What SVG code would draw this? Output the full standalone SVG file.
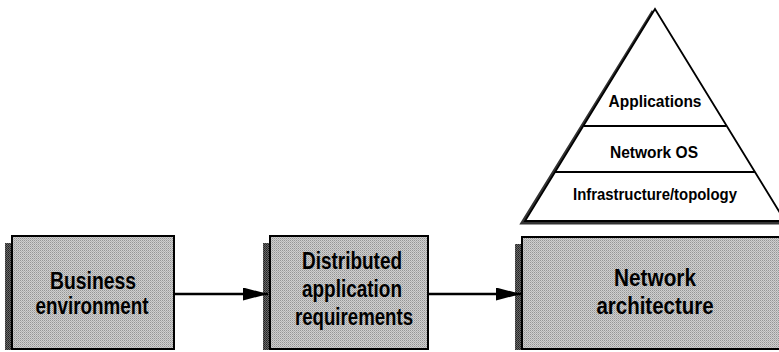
<svg xmlns="http://www.w3.org/2000/svg" width="779" height="352" viewBox="0 0 779 352">
<defs>
<pattern id="ht" width="2" height="2" patternUnits="userSpaceOnUse">
<rect width="2" height="2" fill="#cfcfcf"/>
<rect width="1" height="1" fill="#959595"/>
<rect x="1" y="1" width="1" height="1" fill="#b0b0b0"/>
</pattern>
<pattern id="sh" width="2" height="2" patternUnits="userSpaceOnUse">
<rect width="2" height="2" fill="#6a6a6a"/>
<rect width="1" height="1" fill="#222"/>
<rect x="1" y="1" width="1" height="1" fill="#333"/>
</pattern>
<marker id="ah" markerWidth="25" markerHeight="13" refX="25" refY="6.5" orient="auto" markerUnits="userSpaceOnUse" viewBox="0 0 25 13">
<path d="M0,0 L25,6.5 L0,13 Z" fill="#000"/>
</marker>
</defs>
<style>
.box{fill:url(#ht);stroke:#000;stroke-width:2}
.shadow{fill:url(#sh)}
.t{font-family:"Liberation Sans",Arial,sans-serif;font-weight:bold;fill:#000;text-anchor:middle}
.big{font-size:23px}
.small{font-size:17px}
.conn{stroke:#000;stroke-width:2.5;fill:none}
.tri{fill:#fff;stroke:#000;stroke-width:1.8}
.div{stroke:#000;stroke-width:1.8}
</style>

<g id="business">
<rect class="shadow" x="5" y="243" width="7" height="107"/>
<rect class="box" x="12" y="236" width="162" height="113"/>
<text class="t big" x="93" y="289" textLength="86" lengthAdjust="spacingAndGlyphs">Business</text>
<text class="t big" x="92" y="314" textLength="113" lengthAdjust="spacingAndGlyphs">environment</text>
</g>

<g id="requirements">
<rect class="shadow" x="263" y="243" width="7" height="107"/>
<rect class="box" x="270" y="236" width="158" height="113"/>
<text class="t big" x="352" y="269" textLength="100" lengthAdjust="spacingAndGlyphs">Distributed</text>
<text class="t big" x="352" y="297" textLength="100" lengthAdjust="spacingAndGlyphs">application</text>
<text class="t big" x="354" y="325" textLength="118" lengthAdjust="spacingAndGlyphs">requirements</text>
</g>

<g id="architecture">
<rect class="shadow" x="515" y="244" width="7" height="106"/>
<rect class="box" x="522" y="237" width="258" height="112"/>
<text class="t big" x="655" y="286" textLength="82" lengthAdjust="spacingAndGlyphs">Network</text>
<text class="t big" x="655" y="314" textLength="117" lengthAdjust="spacingAndGlyphs">architecture</text>
</g>

<g id="pyramid">
<path d="M653,11 L522,223 L785,223" fill="none" stroke="#333" stroke-width="3"/>
<path class="tri" d="M655,9 L525,221 L785,221 Z"/>
<line class="div" x1="584" y1="126" x2="726" y2="126"/>
<line class="div" x1="555" y1="172" x2="755" y2="172"/>
<text class="t small" x="655" y="107" textLength="93" lengthAdjust="spacingAndGlyphs">Applications</text>
<text class="t small" x="654" y="158" textLength="88" lengthAdjust="spacingAndGlyphs">Network OS</text>
<text class="t small" x="655" y="200" textLength="164" lengthAdjust="spacingAndGlyphs">Infrastructure/topology</text>
</g>

<g id="connectors">
<line class="conn" x1="175" y1="294" x2="268" y2="294" marker-end="url(#ah)"/>
<line class="conn" x1="429" y1="294" x2="521" y2="294" marker-end="url(#ah)"/>
</g>
</svg>
